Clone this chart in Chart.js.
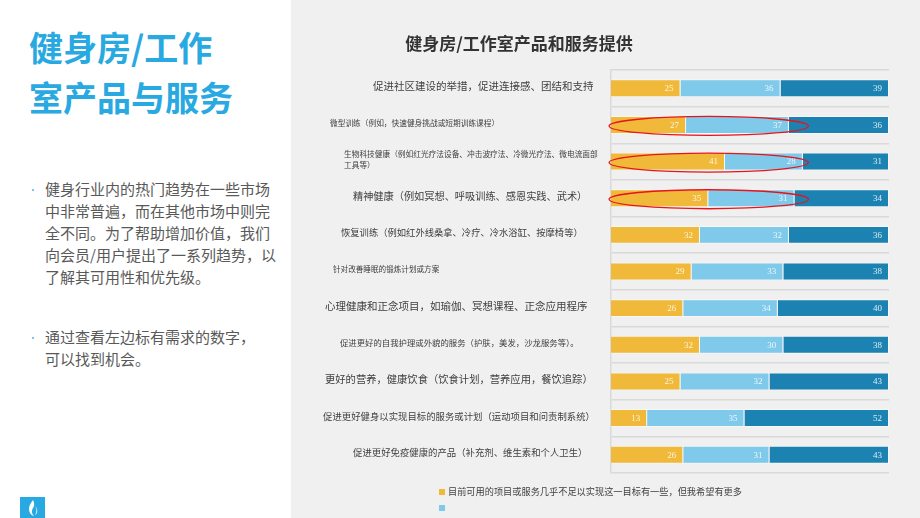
<!DOCTYPE html>
<html>
    <head>
        <meta charset="utf-8">
        <title>健身房/工作室产品与服务</title>
        <script src="https://cdn.jsdelivr.net/npm/chart.js@4.4.1/dist/chart.umd.min.js"></script>
        <style>
            body { margin: 0; width: 920px; height: 518px; overflow: hidden; background: #fff;
                   font-family: "Noto Sans CJK SC", "Noto Sans", sans-serif; position: relative; }
            #left { position: absolute; left: 0; top: 0; width: 291px; height: 518px; background: #fff; }
            #left h1 { position: absolute; left: 29px; top: 22px; margin: 0; font-size: 34px; line-height: 50px;
                       color: #29a9e1; font-weight: 700; white-space: nowrap; }
            .bullet { position: absolute; left: 45px; margin: 0; font-size: 15px; line-height: 22px;
                      color: #595959; white-space: nowrap; }
            .bullet::before { content: ""; position: absolute; left: -13px; top: 11px; width: 2px; height: 2px;
                              background: #7cc6ea; }
            #logo { position: absolute; left: 20px; top: 497px; width: 25px; height: 25px; background: #29a9e1; }
            #panel { position: absolute; left: 291px; top: 0; width: 629px; height: 518px; background: #f0f0f0; }
            #chartTitle { position: absolute; left: 291px; width: 456px; top: 30px; margin: 0; text-align: center;
                          font-size: 17px; font-weight: 700; color: #333; }
        </style>
    </head>
    <body>
        <div id="left">
            <h1>健身房/工作<br>室产品与服务</h1>
            <p class="bullet" style="top:178px">健身行业内的热门趋势在一些市场<br>中非常普遍，而在其他市场中则完<br>全不同。为了帮助增加价值，我们<br>向会员/用户提出了一系列趋势，以<br>了解其可用性和优先级。</p>
            <p class="bullet" style="top:326px">通过查看左边标有需求的数字，<br>可以找到机会。</p>
            <div id="logo">
                <svg width="25" height="21" viewBox="0 0 25 21">
                    <path d="M13 3 C9 8 8 12 10 16 C11 18 13 19 14 19 C12 17 11 14 13 11 C14 9 15 7 13 3 Z" fill="#fff"/>
                    <path d="M15 9 C17 12 17 15 15 18 C18 16 18 12 15 9 Z" fill="#fff"/>
                </svg>
            </div>
        </div>
        <div id="panel">
            <canvas id="myChart" width="629" height="518"></canvas>
        </div>
        <h2 id="chartTitle">健身房/工作室产品和服务提供</h2>

        <script>
            // categories (top to bottom)
            const categories = [
                '促进社区建设的举措，促进连接感、团结和支持',
                '微型训练（例如，快速健身挑战或短期训练课程）',
                ['生物科技健康（例如红光疗法设备、冲击波疗法、冷微光疗法、微电流面部', '工具等）'],
                '精神健康（例如冥想、呼吸训练、感恩实践、武术）',
                '恢复训练（例如红外线桑拿、冷疗、冷水浴缸、按摩椅等）',
                '针对改善睡眠的锻炼计划或方案',
                '心理健康和正念项目，如瑜伽、冥想课程、正念应用程序',
                '促进更好的自我护理或外貌的服务（护肤，美发，沙龙服务等）。',
                '更好的营养，健康饮食（饮食计划，营养应用，餐饮追踪）',
                '促进更好健身以实现目标的服务或计划（运动项目和问责制系统）',
                '促进更好免疫健康的产品（补充剂、维生素和个人卫生）'
            ];
            const notEnough = [25, 27, 41, 35, 32, 29, 26, 32, 25, 13, 26];
            const wantMore  = [36, 37, 28, 31, 32, 33, 34, 30, 32, 35, 31];
            const enough    = [39, 36, 31, 34, 36, 38, 40, 38, 43, 52, 43];
            const seriesNames = ['目前可用的项目或服务几乎不足以实现这一目标有一些，但我希望有更多', '', ''];
            const circledRows = [1, 2, 3];

            const colors = ['#f0b93a', '#7fc9ea', '#1b82b1'];
            // label placement (page x of text start, font size)
            const labelLeft = [373, 330, 344, 353, 341, 333, 325, 340, 325, 323, 353];
            const labelSize = [10.5, 7.7, 7.7, 10.2, 9.3, 7.6, 10.5, 8.4, 10.3, 9.4, 9.4];
            const panelX = 291;

            const extras = {
                id: 'extras',
                afterDatasetsDraw(chart) {
                    const ctx = chart.ctx;
                    const xs = chart.scales.x, ys = chart.scales.y;
                    ctx.save();
                    // values at the end of each segment
                    ctx.font = '9px "Liberation Serif", serif';
                    ctx.fillStyle = 'rgba(255,255,255,0.85)';
                    ctx.textAlign = 'right';
                    ctx.textBaseline = 'middle';
                    chart.data.datasets.forEach((ds, di) => {
                        chart.getDatasetMeta(di).data.forEach((bar, i) => {
                            ctx.fillText(ds.data[i], bar.x - 7, bar.y + 0.5);
                        });
                    });
                    // category labels
                    ctx.fillStyle = '#404040';
                    ctx.textAlign = 'left';
                    categories.forEach((c, i) => {
                        const lines = Array.isArray(c) ? c : [c];
                        const size = labelSize[i];
                        const lh = size * 1.45;
                        ctx.font = size + 'px "Noto Sans CJK SC", sans-serif';
                        const yc = ys.getPixelForValue(i) - 2;
                        lines.forEach((t, k) => {
                            ctx.fillText(t, labelLeft[i] - panelX, yc + (k - (lines.length - 1) / 2) * lh);
                        });
                    });
                    // red ellipses
                    ctx.strokeStyle = '#e8141b';
                    ctx.lineWidth = 1.3;
                    circledRows.forEach(r => {
                        const x0 = xs.getPixelForValue(-0.7), x1 = xs.getPixelForValue(71);
                        const yc = ys.getPixelForValue(r) + 1;
                        ctx.beginPath();
                        ctx.ellipse((x0 + x1) / 2, yc, (x1 - x0) / 2, 9.5, 0, 0, Math.PI * 2);
                        ctx.stroke();
                    });
                    // legend (first two series)
                    ctx.font = '9.2px "Noto Sans CJK SC", sans-serif';
                    [0, 1].forEach(k => {
                        const ly = 492 + k * 16;
                        ctx.fillStyle = colors[k];
                        ctx.fillRect(439 - panelX, ly - 3, 6, 6);
                        ctx.fillStyle = '#404040';
                        ctx.fillText(seriesNames[k], 448 - panelX, ly);
                    });
                    ctx.restore();
                }
            };

            const ctx = document.getElementById('myChart');
            new Chart(ctx, {
                type: 'bar',
                data: {
                    labels: categories,
                    datasets: [notEnough, wantMore, enough].map((d, i) => ({
                        label: seriesNames[i],
                        data: d,
                        backgroundColor: colors[i],
                        borderColor: 'rgba(255,255,255,0.45)',
                        borderWidth: 1,
                        barPercentage: 0.49,
                        categoryPercentage: 1
                    }))
                },
                options: {
                    indexAxis: 'y',
                    responsive: false,
                    animation: false,
                    layout: { padding: { left: 320, right: 31, top: 70, bottom: 45 } },
                    plugins: { legend: { display: false }, tooltip: { enabled: false } },
                    scales: {
                        x: { stacked: true, min: 0, max: 100, display: false },
                        y: {
                            stacked: true,
                            ticks: { display: false },
                            grid: { color: '#d9d9d9', lineWidth: 1.5, drawTicks: false },
                            border: { color: '#d9d9d9', width: 1.5 }
                        }
                    }
                },
                plugins: [extras]
            });
        </script>
    </body>
</html>
